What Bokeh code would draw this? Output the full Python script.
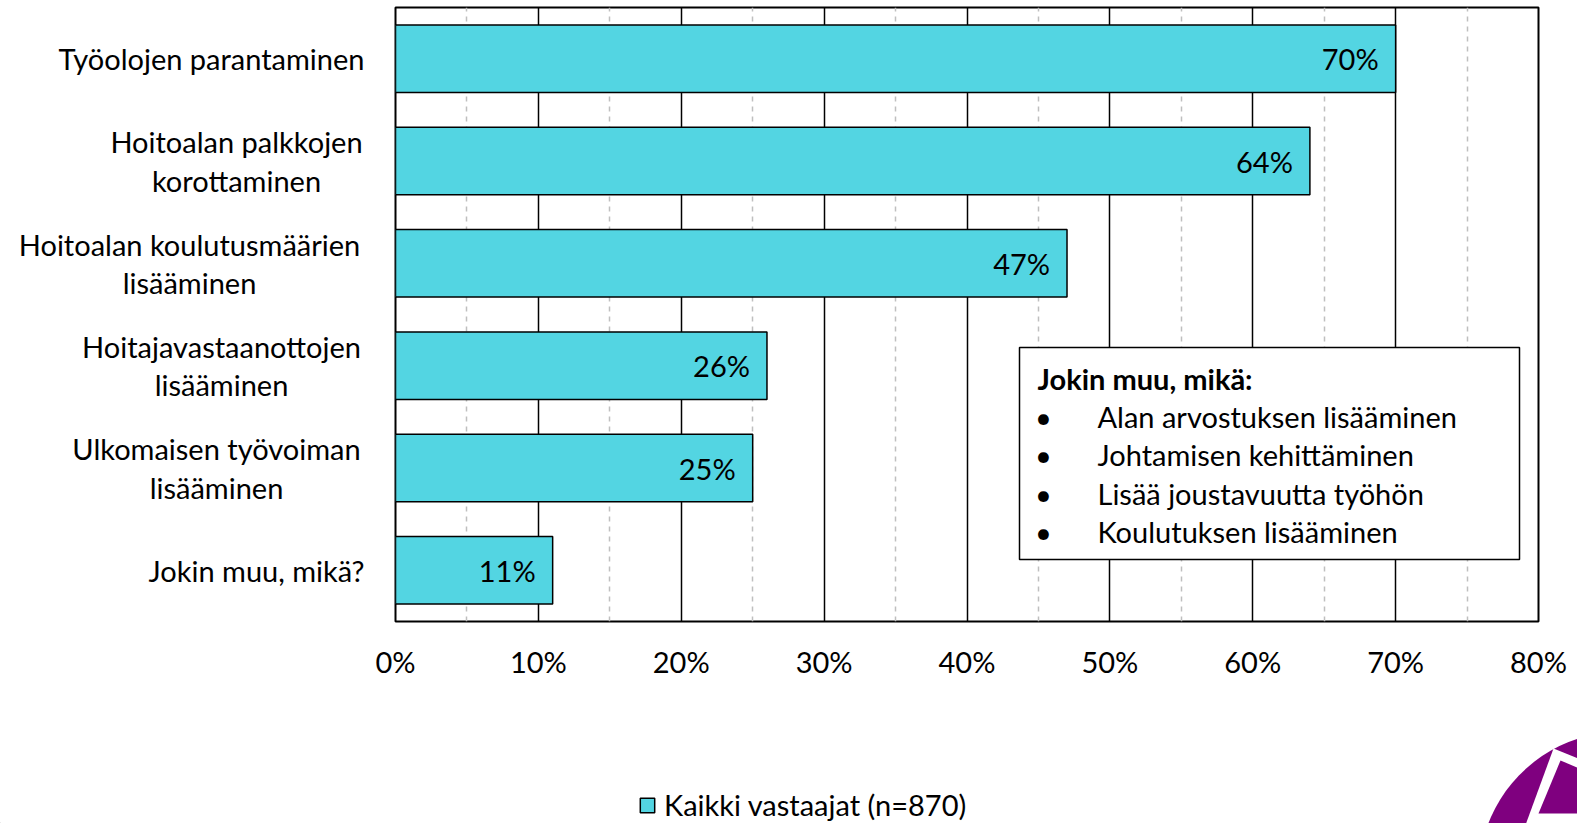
import math
from bokeh.plotting import figure
from bokeh.layouts import column, row
from bokeh.models import (FactorRange, Range1d, FixedTicker, BoxAnnotation, Label,
                          Legend, LegendItem, ColumnDataSource)
from bokeh.embed import file_html
from bokeh.resources import INLINE
from bokeh.core.properties import value

categories = ["Työolojen parantaminen",
              "Hoitoalan palkkojen\nkorottaminen",
              "Hoitoalan koulutusmäärien\nlisääminen",
              "Hoitajavastaanottojen\nlisääminen",
              "Ulkomaisen työvoiman\nlisääminen",
              "Jokin muu, mikä?"]
values = [70, 64, 47, 26, 25, 11]
value_labels = ["70%", "64%", "47%", "26%", "25%", "11%"]
x_ticks = [0, 10, 20, 30, 40, 50, 60, 70, 80]
x_minor = [5, 15, 25, 35, 45, 55, 65, 75]
series_name = "Kaikki vastaajat (n=870)"
box_title = "Jokin muu, mikä:"
box_items = ["Alan arvostuksen lisääminen",
             "Johtamisen kehittäminen",
             "Lisää joustavuutta työhön",
             "Koulutuksen lisääminen"]

FONT = "Lato"
FS = "29px"
BAR = "#53D5E2"
PURPLE = "#7F007F"

# ---- layout geometry (page pixels) ----
LEFT_W = 365
MAIN_W = 1577 - LEFT_W
TOP_H = 700
BOT_H = 123
FT, FB = 7, 79
ML, MR = 30, 39
frame_w = MAIN_W - ML - MR
frame_h = TOP_H - FT - FB
FRAME_X0 = LEFT_W + ML

def px2x(px):
    return (px - FRAME_X0) / (frame_w / 80.0)

def py2y(py):
    return 6 - (py - FT) / (frame_h / 6.0)

yr = FactorRange(factors=list(reversed(categories)))
src = ColumnDataSource(dict(cat=categories, val=values, lab=value_labels))

# ---- main chart ----
p = figure(width=MAIN_W, height=TOP_H, output_backend="svg", toolbar_location=None,
           y_range=yr, x_range=Range1d(0, 80),
           min_border_left=ML, min_border_right=MR, min_border_top=FT, min_border_bottom=FB)

r = p.hbar(y="cat", right="val", left=0, height=0.66, source=src,
           fill_color=BAR, line_color="black", line_width=1.5)

p.text(y="cat", x="val", text="lab", source=src, x_offset=-17,
       text_align="right", text_baseline="middle",
       text_font=value(FONT), text_font_size=FS, text_color="black")

p.outline_line_color = "black"
p.outline_line_width = 2

xa = p.xaxis[0]
xa.ticker = FixedTicker(ticks=x_ticks, minor_ticks=x_minor)
xa.major_label_overrides = {t: f"{t}%" for t in x_ticks}
xa.axis_line_color = None
xa.major_tick_line_color = None
xa.minor_tick_line_color = None
xa.major_label_standoff = 16
xa.major_label_text_font = FONT
xa.major_label_text_font_size = FS
xa.major_label_text_color = "black"

p.yaxis.visible = False

p.xgrid.grid_line_color = "black"
p.xgrid.grid_line_width = 1.5
p.xgrid.minor_grid_line_color = "#BFBFBF"
p.xgrid.minor_grid_line_dash = "5 5"
p.xgrid.minor_grid_line_width = 1.5
p.ygrid.grid_line_color = None

p.add_layout(BoxAnnotation(left=px2x(1019), right=px2x(1519), top=py2y(347), bottom=py2y(559),
                           fill_color="white", fill_alpha=1.0, line_color="black",
                           line_alpha=1.0, line_width=1.5))
p.add_layout(Label(x=px2x(1037), y=py2y(378), text=box_title, text_font=FONT, text_font_size=FS,
                   text_font_style="bold", text_baseline="middle", text_color="black"))
for i, item in enumerate(box_items):
    yy = py2y(416 + i * 38.3)
    p.add_layout(Label(x=px2x(1043), y=yy, text="•", text_font=FONT, text_font_size=FS,
                       text_align="center", text_baseline="middle", text_color="black"))
    p.add_layout(Label(x=px2x(1097), y=yy, text=item, text_font=FONT, text_font_size=FS,
                       text_baseline="middle", text_color="black"))

# ---- category labels panel ----
lab_x = [364, 236, 189, 221, 216, 364]
lab_align = ["right", "center", "center", "center", "center", "right"]
lsrc = ColumnDataSource(dict(cat=categories, x=lab_x, al=lab_align))
pl = figure(width=LEFT_W, height=TOP_H, output_backend="svg", toolbar_location=None,
            y_range=yr, x_range=Range1d(0, LEFT_W),
            min_border_left=0, min_border_right=0, min_border_top=FT, min_border_bottom=FB)
pl.text(x="x", y="cat", text="cat", source=lsrc, text_align="al", text_baseline="middle",
        text_font=value(FONT), text_font_size=FS, text_color="black", text_line_height=1.1)
pl.axis.visible = False
pl.grid.grid_line_color = None
pl.outline_line_color = None

# ---- bottom: legend + logo ----
pb = figure(width=1577, height=BOT_H, output_backend="svg", toolbar_location=None,
            x_range=Range1d(0, 1577), y_range=Range1d(0, BOT_H),
            min_border_left=0, min_border_right=0, min_border_top=0, min_border_bottom=0)
pb.axis.visible = False
pb.grid.grid_line_color = None
pb.outline_line_color = None

def fy(py):
    return 823 - py

dummy = pb.hbar(y=[-1000], right=[-1000], left=-1001, height=1,
                fill_color=BAR, line_color="black", line_width=1.5)
legend = Legend(items=[LegendItem(label=series_name, renderers=[dummy])],
                location=(638, 1), orientation="horizontal",
                label_text_font=FONT, label_text_font_size=FS, label_text_color="black",
                glyph_width=18, glyph_height=18, label_standoff=8,
                padding=0, margin=0, spacing=0, border_line_color=None, background_fill_alpha=0)
pb.add_layout(legend, "center")

cx, cy, rr = 1622, 875, 144
circ_x = [cx + rr * math.cos(t / 90 * 2 * math.pi) for t in range(91)]
circ_y = [fy(cy + rr * math.sin(t / 90 * 2 * math.pi)) for t in range(91)]
pb.patch(circ_x, circ_y, fill_color=PURPLE, line_color=None)
wx = [1553, 1523, 1620, 1620]
wy = [748, 830, 830, 775]
pb.patch(wx, [fy(v) for v in wy], fill_color="white", line_color=None)
ix = [1560, 1538, 1620, 1620]
iy = [760, 813, 813, 785]
pb.patch(ix, [fy(v) for v in iy], fill_color=PURPLE, line_color=None)

layout = column(row(pl, p), pb)
open("out.html", "w").write(file_html(layout, INLINE))
